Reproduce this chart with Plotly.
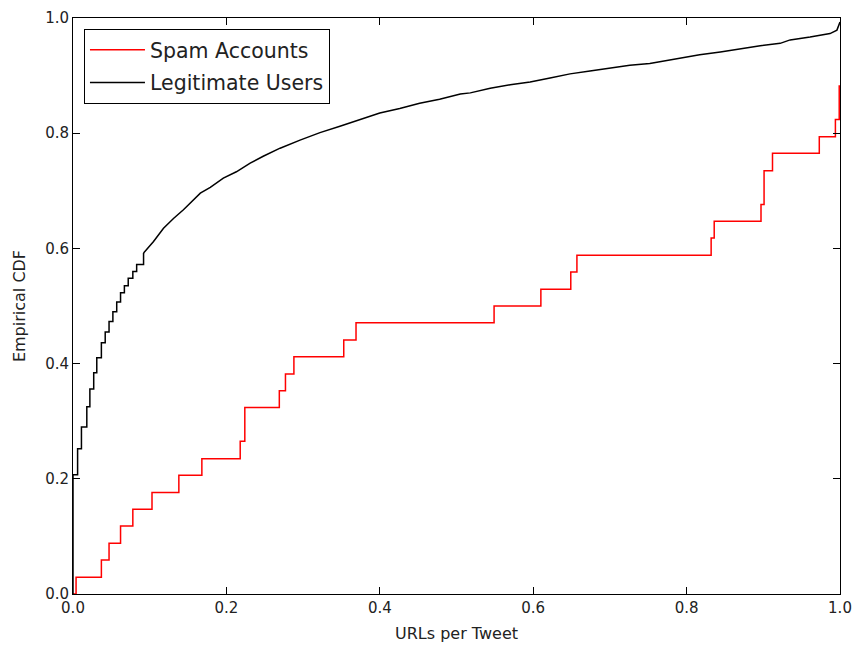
import plotly.graph_objects as go

# Spam accounts ECDF (step locations and CDF value after each step)
spam_x = [0.0, 0.004, 0.037, 0.047, 0.062, 0.078, 0.103, 0.138, 0.168, 0.218, 0.224,
          0.269, 0.277, 0.288, 0.353, 0.369, 0.549, 0.610, 0.649, 0.657, 0.832, 0.836,
          0.897, 0.901, 0.912, 0.973, 0.994, 0.999, 1.0]
spam_cdf = [0.0, 0.029, 0.059, 0.088, 0.118, 0.147, 0.176, 0.206, 0.235, 0.265, 0.324,
            0.353, 0.382, 0.412, 0.441, 0.471, 0.500, 0.529, 0.559, 0.588, 0.618, 0.647,
            0.676, 0.735, 0.765, 0.794, 0.824, 0.882, 0.882]

# Legitimate users ECDF (coarse steps near zero, then fine staircase)
legit_x = [0.0, 0.0, 0.006, 0.011, 0.018, 0.022, 0.027, 0.031, 0.037, 0.042, 0.047, 0.052,
           0.057, 0.062, 0.067, 0.072, 0.078, 0.083, 0.092, 0.105, 0.118, 0.131, 0.144,
           0.155, 0.166, 0.179, 0.196, 0.213, 0.231, 0.248, 0.270, 0.296, 0.322, 0.348,
           0.374, 0.400, 0.426, 0.452, 0.478, 0.505, 0.518, 0.544, 0.570, 0.596, 0.622,
           0.648, 0.674, 0.700, 0.726, 0.752, 0.765, 0.791, 0.817, 0.844, 0.870, 0.896,
           0.922, 0.935, 0.961, 0.987, 0.996, 0.998, 0.9995, 1.0]
legit_cdf = [0.0, 0.207, 0.252, 0.290, 0.325, 0.356, 0.384, 0.410, 0.436, 0.455, 0.473, 0.490,
             0.507, 0.523, 0.535, 0.548, 0.560, 0.572, 0.592, 0.612, 0.635, 0.652, 0.667,
             0.681, 0.696, 0.706, 0.722, 0.733, 0.748, 0.760, 0.774, 0.788, 0.801, 0.812,
             0.823, 0.835, 0.843, 0.852, 0.859, 0.868, 0.870, 0.878, 0.884, 0.889, 0.896,
             0.903, 0.908, 0.913, 0.918, 0.921, 0.924, 0.931, 0.936, 0.941, 0.947, 0.952,
             0.956, 0.962, 0.967, 0.973, 0.979, 0.988, 0.993, 0.993]
legit_split = 18  # index where the visible coarse steps end

tick_vals = [0.0, 0.2, 0.4, 0.6, 0.8, 1.0]
tick_text = ["0.0", "0.2", "0.4", "0.6", "0.8", "1.0"]

fig = go.Figure()
fig.add_trace(go.Scatter(x=spam_x, y=spam_cdf, mode="lines", name="Spam Accounts",
                         legendgroup="spam",
                         line=dict(color="#ff0000", width=1.5, shape="hv")))
fig.add_trace(go.Scatter(x=legit_x[:legit_split + 1], y=legit_cdf[:legit_split + 1],
                         mode="lines", name="Legitimate Users", legendgroup="legit",
                         line=dict(color="#000000", width=1.5, shape="hv")))
fig.add_trace(go.Scatter(x=legit_x[legit_split:], y=legit_cdf[legit_split:],
                         mode="lines", name="Legitimate Users", legendgroup="legit",
                         showlegend=False,
                         line=dict(color="#000000", width=1.5, shape="linear")))

axis_common = dict(
    range=[0, 1], tickvals=tick_vals, ticktext=tick_text, automargin=False,
    ticks="inside", ticklen=7, tickwidth=1, tickcolor="black",
    showline=True, linecolor="black", linewidth=1, mirror="allticks",
    showgrid=False, zeroline=False,
    tickfont=dict(family="DejaVu Sans", size=15, color="#222"),
    title_font=dict(family="DejaVu Sans", size=16, color="#222"),
)

fig.update_layout(
    width=855, height=650,
    margin=dict(l=73, r=15, t=18, b=56),
    paper_bgcolor="white", plot_bgcolor="white",
    xaxis=dict(axis_common, title=dict(text="URLs per Tweet", standoff=11)),
    yaxis=dict(axis_common, title=dict(text="Empirical CDF", standoff=15)),
    legend=dict(x=0.0143, y=0.981, xanchor="left", yanchor="top",
                bordercolor="black", borderwidth=1, bgcolor="white",
                itemwidth=55, tracegroupgap=3,
                font=dict(family="DejaVu Sans", size=20.5, color="#222")),
    showlegend=True,
)

fig.write_html("out.html")
